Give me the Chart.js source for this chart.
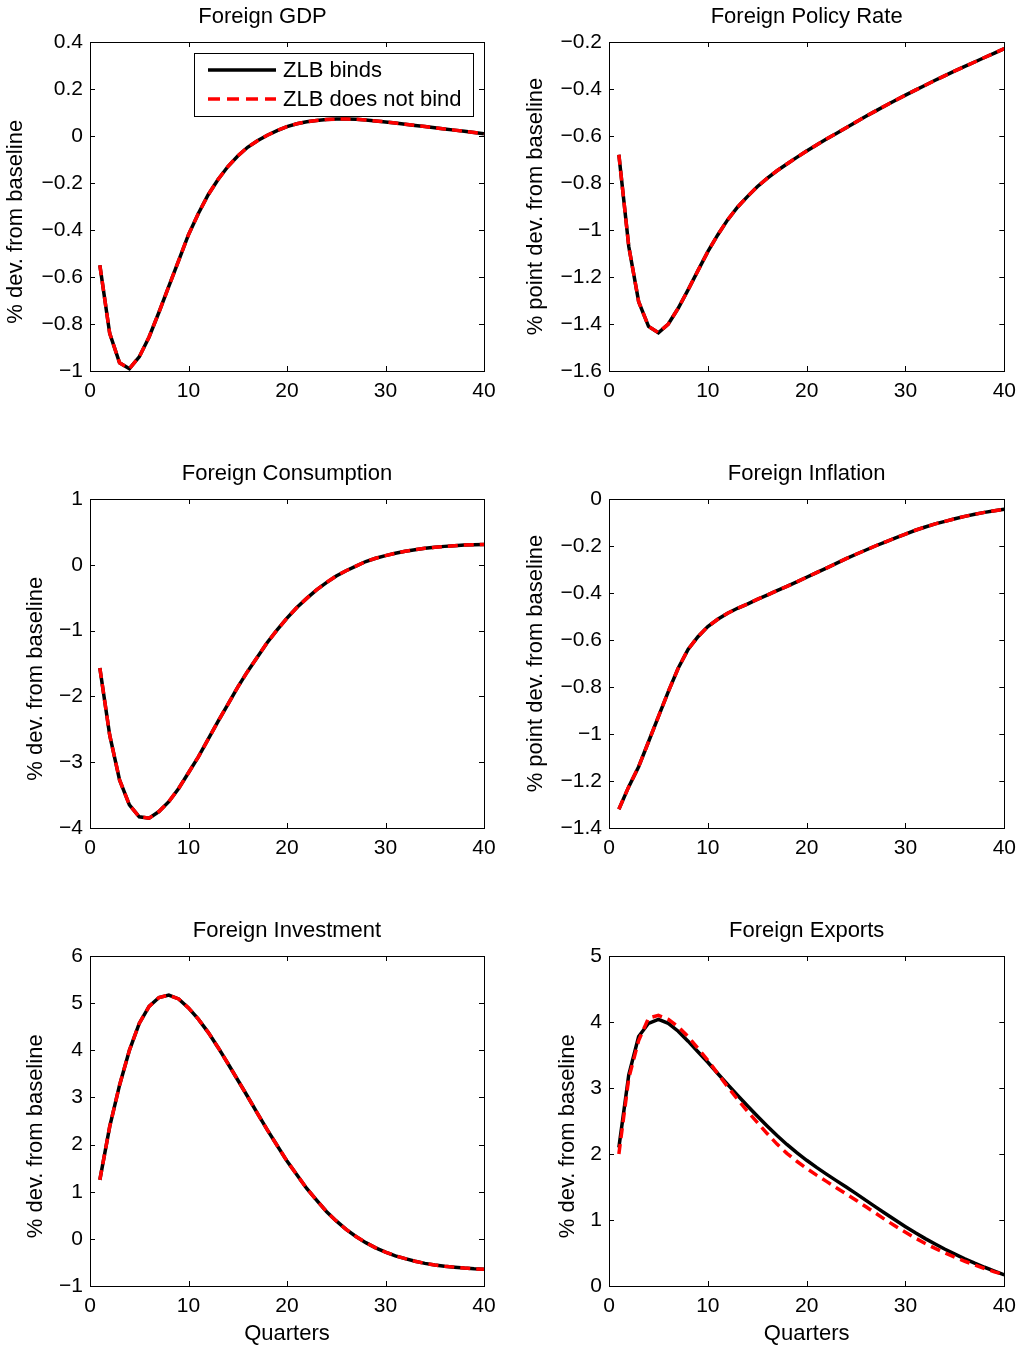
<!DOCTYPE html>
<html>
<head>
<meta charset="utf-8">
<title>Foreign responses</title>
<script src="https://cdn.jsdelivr.net/npm/chart.js@4.4.1/dist/chart.umd.min.js"></script>
<style>
  body { margin: 0; background: #fff; overflow: hidden; }
  #page { position: relative; width: 1019px; height: 1348px; overflow: hidden; }
  .panel { position: absolute; }
</style>
</head>
<body>
<div id="page">
  <div class="panel" style="left:0;top:0"><canvas id="gdp" width="510" height="415"></canvas></div>
  <div class="panel" style="left:515px;top:0"><canvas id="policy" width="509" height="415"></canvas></div>
  <div class="panel" style="left:0;top:457px"><canvas id="consumption" width="510" height="415"></canvas></div>
  <div class="panel" style="left:515px;top:457px"><canvas id="inflation" width="509" height="415"></canvas></div>
  <div class="panel" style="left:0;top:914px"><canvas id="investment" width="510" height="434"></canvas></div>
  <div class="panel" style="left:515px;top:914px"><canvas id="exports" width="509" height="434"></canvas></div>
</div>
<script>
const quarters = [1, 2, 3, 4, 5, 6, 7, 8, 9, 10, 11, 12, 13, 14, 15, 16, 17, 18, 19, 20,
  21, 22, 23, 24, 25, 26, 27, 28, 29, 30, 31, 32, 33, 34, 35, 36, 37, 38, 39, 40];
const xTicks = [0, 10, 20, 30, 40];
const seriesNames = ['ZLB binds', 'ZLB does not bind'];

// Foreign GDP
const gdpBinds = [-0.55, -0.84, -0.965, -0.99, -0.94, -0.855, -0.75, -0.64, -0.53, -0.42,
  -0.33, -0.25, -0.185, -0.13, -0.085, -0.048, -0.02, 0.003, 0.023, 0.04,
  0.052, 0.061, 0.066, 0.07, 0.072, 0.072, 0.071, 0.068, 0.064, 0.06,
  0.055, 0.05, 0.045, 0.04, 0.035, 0.03, 0.025, 0.02, 0.015, 0.01];
const gdpNoBind = [-0.55, -0.84, -0.965, -0.99, -0.94, -0.855, -0.75, -0.64, -0.53, -0.42,
  -0.33, -0.25, -0.185, -0.13, -0.085, -0.048, -0.02, 0.003, 0.023, 0.04,
  0.052, 0.061, 0.066, 0.07, 0.072, 0.072, 0.071, 0.068, 0.064, 0.06,
  0.055, 0.05, 0.045, 0.04, 0.035, 0.03, 0.025, 0.02, 0.015, 0.01];
const gdpTicks = [-1, -0.8, -0.6, -0.4, -0.2, 0, 0.2, 0.4];

// Foreign policy rate
const policyBinds = [-0.68, -1.07, -1.305, -1.41, -1.437, -1.4, -1.333, -1.255, -1.173, -1.092,
  -1.021, -0.957, -0.903, -0.858, -0.816, -0.78, -0.748, -0.719, -0.691, -0.664,
  -0.638, -0.613, -0.589, -0.565, -0.54, -0.516, -0.493, -0.47, -0.448, -0.426,
  -0.405, -0.384, -0.363, -0.343, -0.323, -0.304, -0.285, -0.266, -0.247, -0.228];
const policyNoBind = [-0.68, -1.07, -1.305, -1.41, -1.437, -1.4, -1.333, -1.255, -1.173, -1.092,
  -1.021, -0.957, -0.903, -0.858, -0.816, -0.78, -0.748, -0.719, -0.691, -0.664,
  -0.638, -0.613, -0.589, -0.565, -0.54, -0.516, -0.493, -0.47, -0.448, -0.426,
  -0.405, -0.384, -0.363, -0.343, -0.323, -0.304, -0.285, -0.266, -0.247, -0.228];
const policyTicks = [-1.6, -1.4, -1.2, -1, -0.8, -0.6, -0.4, -0.2];

// Foreign consumption
const consBinds = [-1.57, -2.59, -3.27, -3.65, -3.83, -3.85, -3.75, -3.6, -3.4, -3.16,
  -2.92, -2.65, -2.38, -2.12, -1.86, -1.62, -1.4, -1.18, -0.99, -0.81,
  -0.65, -0.51, -0.38, -0.27, -0.17, -0.09, -0.02, 0.05, 0.1, 0.14,
  0.175, 0.205, 0.23, 0.25, 0.265, 0.28, 0.29, 0.3, 0.305, 0.31];
const consNoBind = [-1.57, -2.59, -3.27, -3.65, -3.83, -3.85, -3.75, -3.6, -3.4, -3.16,
  -2.92, -2.65, -2.38, -2.12, -1.86, -1.62, -1.4, -1.18, -0.99, -0.81,
  -0.65, -0.51, -0.38, -0.27, -0.17, -0.09, -0.02, 0.05, 0.1, 0.14,
  0.175, 0.205, 0.23, 0.25, 0.265, 0.28, 0.29, 0.3, 0.305, 0.31];
const consTicks = [-4, -3, -2, -1, 0, 1];

// Foreign inflation
const inflBinds = [-1.32, -1.224, -1.139, -1.033, -0.926, -0.82, -0.72, -0.64, -0.586, -0.543,
  -0.512, -0.486, -0.465, -0.447, -0.427, -0.409, -0.39, -0.372, -0.353, -0.333,
  -0.313, -0.294, -0.274, -0.254, -0.235, -0.217, -0.199, -0.182, -0.165, -0.149,
  -0.133, -0.119, -0.106, -0.095, -0.084, -0.074, -0.065, -0.057, -0.05, -0.044];
const inflNoBind = [-1.32, -1.224, -1.139, -1.033, -0.926, -0.82, -0.72, -0.64, -0.586, -0.543,
  -0.512, -0.486, -0.465, -0.447, -0.427, -0.409, -0.39, -0.372, -0.353, -0.333,
  -0.313, -0.294, -0.274, -0.254, -0.235, -0.217, -0.199, -0.182, -0.165, -0.149,
  -0.133, -0.119, -0.106, -0.095, -0.084, -0.074, -0.065, -0.057, -0.05, -0.044];
const inflTicks = [-1.4, -1.2, -1, -0.8, -0.6, -0.4, -0.2, 0];

// Foreign investment
const invBinds = [1.25, 2.38, 3.26, 4.0, 4.57, 4.93, 5.12, 5.17, 5.09, 4.9,
  4.66, 4.38, 4.06, 3.72, 3.37, 3.02, 2.66, 2.31, 1.98, 1.65,
  1.36, 1.07, 0.82, 0.58, 0.38, 0.2, 0.05, -0.08, -0.19, -0.28,
  -0.36, -0.42, -0.475, -0.52, -0.555, -0.58, -0.6, -0.62, -0.635, -0.645];
const invNoBind = [1.25, 2.38, 3.26, 4.0, 4.57, 4.93, 5.12, 5.17, 5.09, 4.9,
  4.66, 4.38, 4.06, 3.72, 3.37, 3.02, 2.66, 2.31, 1.98, 1.65,
  1.36, 1.07, 0.82, 0.58, 0.38, 0.2, 0.05, -0.08, -0.19, -0.28,
  -0.36, -0.42, -0.475, -0.52, -0.555, -0.58, -0.6, -0.62, -0.635, -0.645];
const invTicks = [-1, 0, 1, 2, 3, 4, 5, 6];

// Foreign exports (the two cases differ a little here)
const expBinds = [2.1, 3.2, 3.78, 3.98, 4.04, 3.98, 3.86, 3.71, 3.55, 3.39,
  3.22, 3.055, 2.89, 2.73, 2.575, 2.425, 2.28, 2.145, 2.02, 1.905,
  1.797, 1.695, 1.597, 1.5, 1.4, 1.297, 1.195, 1.094, 0.995, 0.899,
  0.806, 0.718, 0.635, 0.556, 0.482, 0.412, 0.346, 0.284, 0.226, 0.17];
const expNoBind = [2.0, 3.15, 3.72, 4.06, 4.1, 4.04, 3.93, 3.78, 3.6, 3.42,
  3.22, 3.02, 2.83, 2.65, 2.48, 2.31, 2.15, 2.01, 1.89, 1.78,
  1.68, 1.585, 1.49, 1.395, 1.3, 1.2, 1.1, 1.0, 0.905, 0.813,
  0.726, 0.645, 0.57, 0.5, 0.435, 0.375, 0.32, 0.265, 0.215, 0.17];
const expTicks = [0, 1, 2, 3, 4, 5];

const FONT = '"Liberation Sans", Arial, Helvetica, sans-serif';
Chart.defaults.font.family = FONT;
Chart.defaults.color = '#000';

// Matlab style box with inward tick marks on all four sides
const boxPlugin = {
  id: 'matlabBox',
  afterDatasetsDraw(chart) {
    const { ctx, chartArea, scales } = chart;
    const { left, right, top, bottom } = chartArea;
    const tick = 5;
    ctx.save();
    ctx.strokeStyle = '#000';
    ctx.lineWidth = 1;
    ctx.beginPath();
    scales.x.ticks.forEach(t => {
      const px = Math.round(scales.x.getPixelForValue(t.value)) + 0.5;
      ctx.moveTo(px, bottom); ctx.lineTo(px, bottom - tick);
      ctx.moveTo(px, top); ctx.lineTo(px, top + tick);
    });
    scales.y.ticks.forEach(t => {
      const py = Math.round(scales.y.getPixelForValue(t.value)) + 0.5;
      ctx.moveTo(left, py); ctx.lineTo(left + tick, py);
      ctx.moveTo(right, py); ctx.lineTo(right - tick, py);
    });
    ctx.stroke();
    ctx.strokeRect(Math.round(left) + 0.5, Math.round(top) + 0.5,
      Math.round(right - left), Math.round(bottom - top));
    ctx.restore();
  }
};

// Legend box drawn inside the plot area (first panel only)
const legendPlugin = {
  id: 'zlbLegend',
  afterDraw(chart) {
    const { ctx, chartArea } = chart;
    const x = chartArea.left + 104;
    const y = chartArea.top + 11;
    const w = 279, h = 63;
    ctx.save();
    ctx.fillStyle = '#fff';
    ctx.fillRect(x, y, w, h);
    ctx.strokeStyle = '#000';
    ctx.lineWidth = 1;
    ctx.strokeRect(x + 0.5, y + 0.5, w, h);

    const rows = [
      { label: seriesNames[0], color: '#000', dash: [] },
      { label: seriesNames[1], color: '#ff0000', dash: [12, 7] }
    ];
    rows.forEach((row, i) => {
      const ly = y + 17 + i * 29;
      ctx.beginPath();
      ctx.setLineDash(row.dash);
      ctx.strokeStyle = row.color;
      ctx.lineWidth = 3.5;
      ctx.moveTo(x + 14, ly);
      ctx.lineTo(x + 82, ly);
      ctx.stroke();
      ctx.setLineDash([]);
      ctx.fillStyle = '#000';
      ctx.font = '22px ' + FONT;
      ctx.textBaseline = 'middle';
      ctx.textAlign = 'left';
      ctx.fillText(row.label, x + 89, ly + 1);
    });
    ctx.restore();
  }
};

const fmtTick = (value) => String(value).replace('-', '\u2212');

const createPanel = (id, opts) => {
  const ctx = document.getElementById(id).getContext('2d');
  const toPoints = (vals) => vals.map((v, i) => ({ x: quarters[i], y: v }));

  return new Chart(ctx, {
    type: 'line',
    data: {
      datasets: [
        {
          label: seriesNames[0],
          data: toPoints(opts.binds),
          borderColor: '#000',
          borderWidth: 3.5,
          pointRadius: 0,
          tension: 0,
          order: 1
        },
        {
          label: seriesNames[1],
          data: toPoints(opts.noBind),
          borderColor: '#ff0000',
          borderWidth: 3.5,
          borderDash: [10, 6],
          pointRadius: 0,
          tension: 0,
          order: 0
        }
      ]
    },
    options: {
      responsive: false,
      animation: false,
      devicePixelRatio: 1,
      layout: { padding: { right: opts.padRight, left: 0, top: 0, bottom: 0 } },
      plugins: {
        legend: { display: false },
        tooltip: { enabled: false },
        title: {
          display: true,
          text: opts.title,
          fullSize: false,
          color: '#000',
          font: { size: 22, weight: 'normal' },
          padding: { top: 4, bottom: 11.6 }
        }
      },
      scales: {
        x: {
          type: 'linear',
          min: 0,
          max: 40,
          grid: { display: false, drawTicks: false },
          border: { display: false },
          afterBuildTicks: (scale) => { scale.ticks = xTicks.map(v => ({ value: v })); },
          afterFit: (scale) => { scale.height = opts.xHeight; },
          ticks: {
            font: { size: 21 },
            color: '#000',
            padding: 8,
            maxRotation: 0,
            callback: fmtTick
          },
          title: {
            display: !!opts.xTitle,
            text: opts.xTitle || '',
            color: '#000',
            font: { size: 22 },
            padding: { top: 0, bottom: 1 }
          }
        },
        y: {
          type: 'linear',
          min: opts.ticks[0],
          max: opts.ticks[opts.ticks.length - 1],
          grid: { display: false, drawTicks: false },
          border: { display: false },
          afterBuildTicks: (scale) => { scale.ticks = opts.ticks.map(v => ({ value: v })); },
          afterFit: (scale) => { scale.width = opts.yWidth; },
          ticks: {
            font: { size: 21 },
            color: '#000',
            padding: 7,
            callback: fmtTick
          },
          title: {
            display: true,
            text: opts.yTitle,
            color: '#000',
            font: { size: 22 },
            padding: { top: opts.yTitlePad, bottom: 0 }
          }
        }
      }
    },
    plugins: opts.legend ? [boxPlugin, legendPlugin] : [boxPlugin]
  });
};

// trailing blanks keep the label off-centre the way the original figure has it
const DEV = '% dev. from baseline     ';
const PT_DEV = '% point dev. from baseline';

createPanel('gdp', {
  title: 'Foreign GDP        ', binds: gdpBinds, noBind: gdpNoBind, ticks: gdpTicks,
  yTitle: DEV, yTitlePad: 3, yWidth: 90, padRight: 26, xHeight: 44, legend: true
});
createPanel('policy', {
  title: 'Foreign Policy Rate', binds: policyBinds, noBind: policyNoBind, ticks: policyTicks,
  yTitle: PT_DEV, yTitlePad: 8, yWidth: 94, padRight: 15, xHeight: 44
});
createPanel('consumption', {
  title: 'Foreign Consumption', binds: consBinds, noBind: consNoBind, ticks: consTicks,
  yTitle: DEV, yTitlePad: 23, yWidth: 90, padRight: 26, xHeight: 44
});
createPanel('inflation', {
  title: 'Foreign Inflation', binds: inflBinds, noBind: inflNoBind, ticks: inflTicks,
  yTitle: PT_DEV, yTitlePad: 8, yWidth: 94, padRight: 15, xHeight: 44
});
createPanel('investment', {
  title: 'Foreign Investment', binds: invBinds, noBind: invNoBind, ticks: invTicks,
  yTitle: DEV, yTitlePad: 23, yWidth: 90, padRight: 26, xHeight: 62, xTitle: 'Quarters'
});
createPanel('exports', {
  title: 'Foreign Exports', binds: expBinds, noBind: expNoBind, ticks: expTicks,
  yTitle: DEV, yTitlePad: 40, yWidth: 94, padRight: 15, xHeight: 62, xTitle: 'Quarters'
});
</script>
</body>
</html>
